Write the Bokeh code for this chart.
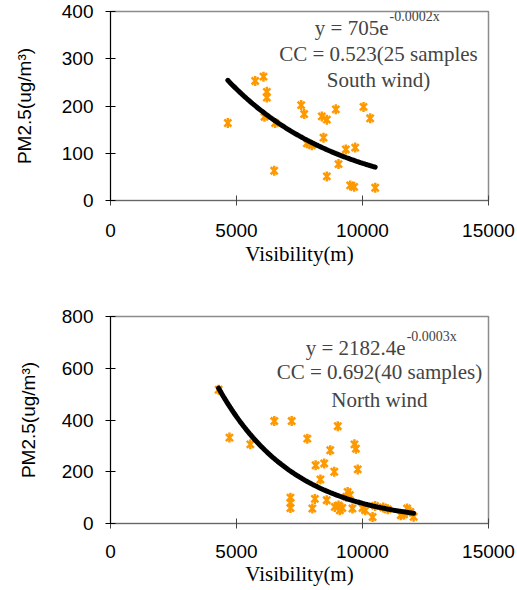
import numpy as np
from bokeh.plotting import figure
from bokeh.layouts import column
from bokeh.models import Range1d, FixedTicker, Label
from bokeh.embed import file_html
from bokeh.resources import INLINE

# ---- data ----
x_ticks = [0, 5000, 10000, 15000]
south_ticks = [0, 100, 200, 300, 400]
north_ticks = [0, 200, 400, 600, 800]

south_vis = [4656, 5741, 6071, 6204, 6204, 6111, 6534, 6495, 7566, 7685, 7794, 7992, 8386,
             8585, 8942, 8452, 8585, 9048, 9339, 9709, 9511, 9669, 10040, 10304, 10503]
south_pm = [164, 253, 262, 230, 218, 177, 164, 63, 202, 183, 121, 117, 178,
            171, 193, 133, 51, 77, 108, 112, 32, 29, 198, 174, 27]

north_vis = [4290, 4720, 5550, 6500, 7190, 7810, 8720, 9020, 9680, 9740,
             8140, 8480, 8880, 9810, 8330, 7140, 7140, 7140, 8110, 8010,
             8580, 8900, 9100, 9410, 9350, 9600, 10110, 10400, 10500, 10820,
             11000, 11520, 11770, 12030, 11650, 9050, 9500, 10000, 11900, 9200]
north_pm = [517, 332, 306, 396, 396, 328, 283, 376, 306, 289,
            225, 232, 200, 209, 170, 100, 80, 60, 95, 58,
            90, 64, 51, 122, 103, 58, 51, 25, 68, 62,
            55, 32, 58, 26, 35, 70, 110, 60, 45, 60]

# exponential trend-line parameters (y = A * exp(-k x))
south_A, south_k = 705.0, 0.000219
north_A, north_k = 2182.4, 0.000333

south_eq = ["y = 705e", "-0.0002x", "CC = 0.523(25 samples", "South wind)"]
north_eq = ["y = 2182.4e", "-0.0003x", "CC = 0.692(40 samples)", "North wind"]

ORANGE = "#FF9900"
SANS = "Liberation Sans"
SERIF = "Liberation Serif"


def make_fig(ymax, yticks, width, height, bl, br, bt, bb,
             ytick_standoff, ylab_standoff, xtick_standoff, xlab_standoff):
    p = figure(width=width, height=height, output_backend="svg", toolbar_location=None,
               x_range=Range1d(0, 15000), y_range=Range1d(0, ymax),
               min_border_left=bl, min_border_right=br, min_border_top=bt, min_border_bottom=bb)
    p.xgrid.visible = False
    p.ygrid.visible = False
    p.outline_line_color = "#8c8c8c"
    p.outline_line_width = 1.5
    p.background_fill_color = "white"
    p.border_fill_color = "white"

    p.xaxis.ticker = FixedTicker(ticks=x_ticks)
    p.yaxis.ticker = FixedTicker(ticks=yticks)
    for ax in (p.xaxis[0], p.yaxis[0]):
        ax.major_tick_in = 5
        ax.major_tick_out = 5
        ax.minor_tick_line_color = None
        ax.major_label_text_font = SANS
        ax.major_label_text_font_size = "19px"
        ax.major_label_text_color = "black"
        ax.axis_label_text_font_style = "normal"
        ax.axis_label_text_color = "black"
    p.xaxis.axis_line_color = "#666666"
    p.xaxis.major_tick_line_color = "#444444"
    p.yaxis.axis_line_color = "black"
    p.yaxis.major_tick_line_color = "black"
    p.xaxis.major_label_standoff = xtick_standoff
    p.yaxis.major_label_standoff = ytick_standoff

    p.xaxis.axis_label = "Visibility(m)"
    p.xaxis.axis_label_text_font = SERIF
    p.xaxis.axis_label_text_font_size = "21px"
    p.xaxis.axis_label_standoff = xlab_standoff

    p.yaxis.axis_label = "PM2.5(ug/m\u00b3)"
    p.yaxis.axis_label_text_font = SANS
    p.yaxis.axis_label_text_font_size = "19px"
    p.yaxis.axis_label_standoff = ylab_standoff
    return p


def add_points(p, xs, ys):
    p.scatter(xs, ys, marker="x", size=10, line_color=ORANGE, line_width=2.5)
    p.scatter(xs, ys, marker="dash", angle=np.pi / 2, size=10, line_color=ORANGE, line_width=2.5)


def add_trend(p, xs, A, k):
    tx = np.linspace(min(xs), max(xs), 120)
    p.line(tx, A * np.exp(-k * tx), line_color="black", line_width=5, line_cap="round")


def add_eq(p, texts, x_main, y_main, x_sup, y_sup, x_c, y2, y3):
    p.add_layout(Label(x=x_main, y=y_main, text=texts[0], text_font=SERIF, text_font_size="21px",
                       text_align="right", text_baseline="middle"))
    p.add_layout(Label(x=x_sup, y=y_sup, text=texts[1], text_font=SERIF, text_font_size="14px",
                       text_align="left", text_baseline="middle"))
    p.add_layout(Label(x=x_c, y=y2, text=texts[2], text_font=SERIF, text_font_size="21px",
                       text_align="center", text_baseline="middle"))
    p.add_layout(Label(x=x_c, y=y3, text=texts[3], text_font=SERIF, text_font_size="21px",
                       text_align="center", text_baseline="middle"))


# ---- top: south wind ----
p1 = make_fig(400, south_ticks, 517, 272, 110, 29, 11, 72, 12, 24, 18, 2)
add_points(p1, south_vis, south_pm)
add_trend(p1, south_vis, south_A, south_k)
add_eq(p1, south_eq, 11032, 366, 11071, 389, 10635, 311, 254)

# ---- bottom: north wind ----
p2 = make_fig(800, north_ticks, 517, 318, 102, 27, 44, 67, 12, 20, 16, 1)
add_points(p2, north_vis, north_pm)
add_trend(p2, north_vis, north_A, north_k)
add_eq(p2, north_eq, 11714, 680, 11753, 723, 10670, 584, 479)

layout = column(p1, p2, spacing=0)
open("out.html", "w").write(file_html(layout, INLINE))
